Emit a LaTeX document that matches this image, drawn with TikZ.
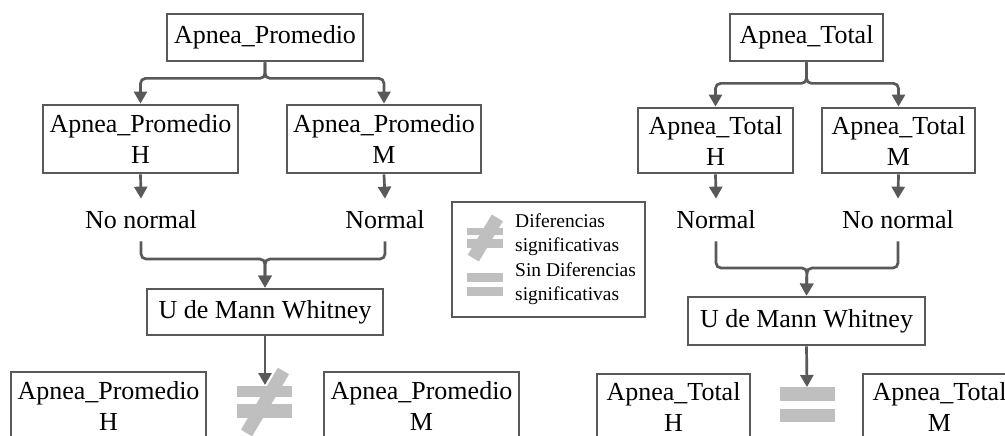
\documentclass[tikz,border=0pt]{standalone}
\usepackage{fontspec}
\setmainfont{Liberation Serif}
\usetikzlibrary{arrows.meta,positioning,calc}

\definecolor{lineg}{HTML}{595959}
\definecolor{symg}{HTML}{BFBFBF}

\tikzset{
  caja/.style={draw=lineg, line width=2.8pt, inner sep=0pt, align=center,
    font=\fontsize{26}{31}\selectfont},
  etiq/.style={inner xsep=2pt, inner ysep=12pt, font=\fontsize{26}{31}\selectfont},
  leytxt/.style={inner sep=0pt, align=left, anchor=north west,
    font=\fontsize{19.5}{23.5}\selectfont},
  flecha/.style={draw=lineg, line width=2.7pt, rounded corners=5pt,
    -{Triangle[length=12pt,width=13pt]}},
}

% simbolos: distinto e igual (centro, escala)
\newcommand{\simdist}[2]{%
  \begin{scope}[shift={#1}, scale=#2]
    \fill[symg] (-27.5,5) rectangle (27.5,16);
    \fill[symg] (-27.5,-16) rectangle (27.5,-2);
    \draw[symg, line width=13pt] (-18,-31) -- (19,31);
  \end{scope}}
\newcommand{\simigual}[2]{%
  \begin{scope}[shift={#1}, scale=#2]
    \fill[symg] (-27.5,-17.5) rectangle (27.5,-4);
    \fill[symg] (-27.5,3.5) rectangle (27.5,17.5);
  \end{scope}}

\begin{document}
\begin{tikzpicture}[x=1pt, y=1pt, >=Latex]
  \useasboundingbox (0,0) rectangle (1005,-436);
  \clip (0,0) rectangle (1005,-436);

  % ---------- arbol izquierdo ----------
  \node[caja, minimum width=196pt, minimum height=47pt] (top1) at (265,-37.5) {Apnea\_Promedio};
  \node[caja, minimum width=195pt, minimum height=68pt] (h1) at (140.5,-139) {Apnea\_Promedio\\H};
  \node[caja, minimum width=194pt, minimum height=68pt] (m1) at (384,-139) {Apnea\_Promedio\\M};
  \node[etiq] (nn1) at (141,-220) {No normal};
  \node[etiq] (no1) at (385,-220) {Normal};
  \node[caja, minimum width=236pt, minimum height=46pt] (mw1) at (265,-312) {U de Mann Whitney};
  \node[caja, minimum width=195pt, minimum height=68pt] (bh1) at (108.5,-406) {Apnea\_Promedio\\H};
  \node[caja, minimum width=195pt, minimum height=68pt] (bm1) at (421.5,-406) {Apnea\_Promedio\\M};
  \coordinate (j1) at (265,-259);
  \coordinate (neqtop1) at (265,-385);

  \draw[flecha] (top1.south) -- ($(top1.south)+(0,-16)$) -| (h1.north);
  \draw[flecha] (top1.south) -- ($(top1.south)+(0,-16)$) -| (m1.north);
  \draw[flecha] (h1.south) -- (nn1.north);
  \draw[flecha] (m1.south) -- (no1.north);
  \draw[flecha] (nn1.south) |- (j1) -- (mw1.north);
  \draw[flecha] (no1.south) |- (j1) -- (mw1.north);
  \simdist{(264.5,-402)}{1}
  \draw[flecha] (mw1.south) -- (neqtop1);

  % ---------- leyenda ----------
  \node[draw=lineg, line width=2.6pt, inner sep=0pt,
        minimum width=193pt, minimum height=115pt] (leyenda) at (548.5,-259.5) {};
  \simdist{(485,-238)}{0.65}
  \simigual{(485,-284.5)}{0.65}
  \node[leytxt] (ley1) at (515,-214) {Diferencias\\significativas};
  \node[leytxt] (ley2) at (515,-263) {Sin Diferencias\\significativas};

  % ---------- arbol derecho ----------
  \node[caja, minimum width=153pt, minimum height=47pt] (top2) at (806.5,-37.5) {Apnea\_Total};
  \node[caja, minimum width=155pt, minimum height=65pt] (h2) at (715.5,-140.5) {Apnea\_Total\\H};
  \node[caja, minimum width=153pt, minimum height=65pt] (m2) at (898.5,-140.5) {Apnea\_Total\\M};
  \node[etiq] (no2) at (716,-220) {Normal};
  \node[etiq] (nn2) at (898,-220) {No normal};
  \node[caja, minimum width=237pt, minimum height=48pt] (mw2) at (806.5,-321) {U de Mann Whitney};
  \node[caja, minimum width=153pt, minimum height=65pt] (bh2) at (673.5,-406.5) {Apnea\_Total\\H};
  \node[caja, minimum width=153pt, minimum height=65pt] (bm2) at (939.5,-406.5) {Apnea\_Total\\M};
  \coordinate (j2) at (807,-268);
  \coordinate (eqtop2) at (807,-387);

  \draw[flecha] (top2.south) -- ($(top2.south)+(0,-21)$) -| (h2.north);
  \draw[flecha] (top2.south) -- ($(top2.south)+(0,-21)$) -| (m2.north);
  \draw[flecha] (h2.south) -- (no2.north);
  \draw[flecha] (m2.south) -- (nn2.north);
  \draw[flecha] (no2.south) |- (j2) -- (mw2.north);
  \draw[flecha] (nn2.south) |- (j2) -- (mw2.north);
  \simigual{(807.5,-404.5)}{1}
  \draw[flecha] (mw2.south) -- (eqtop2);
\end{tikzpicture}
\end{document}
